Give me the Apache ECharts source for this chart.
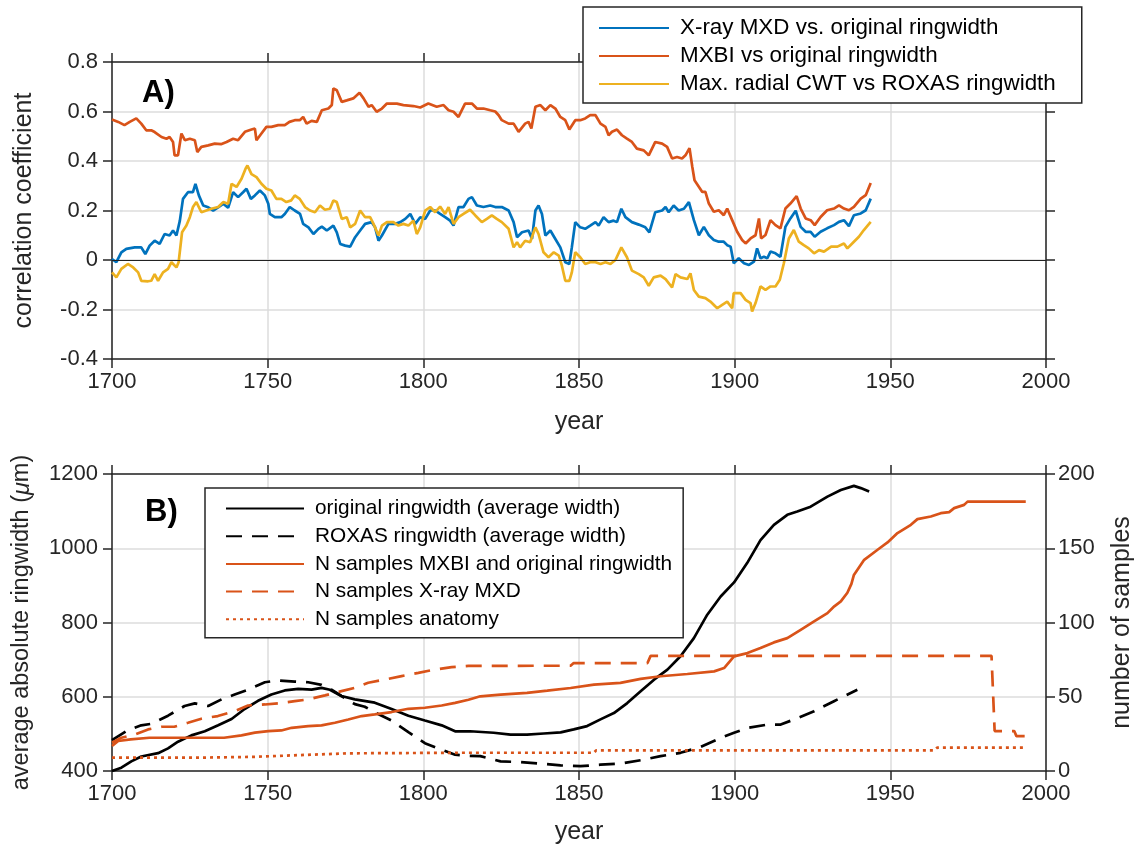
<!DOCTYPE html>
<html>
<head>
<meta charset="utf-8">
<script src="https://cdn.jsdelivr.net/npm/echarts@6/dist/echarts.min.js"></script>
<style>
  html, body { margin: 0; padding: 0; background: #fff; }
  #chart { width: 1139px; height: 849px; }
</style>
</head>
<body>
<div id="chart"></div>
<script>
// ---- panel A: running correlations [year, r] ----
const mxbiCorr = [[1700,0.568],[1702,0.558],[1704,0.545],[1705.7,0.558],[1707.8,0.572],[1709.4,0.551],[1711,0.524],[1712.6,0.524],[1713.7,0.517],[1715.9,0.497],[1717.5,0.490],[1718.5,0.497],[1719.6,0.477],[1720.1,0.423],[1721.2,0.423],[1722.3,0.511],[1723.4,0.484],[1725,0.490],[1726.6,0.484],[1727.4,0.436],[1728.7,0.457],[1730.9,0.463],[1733,0.470],[1735,0.468],[1736.8,0.477],[1738.9,0.490],[1740.5,0.484],[1742.7,0.518],[1744.8,0.527],[1745.9,0.531],[1746.4,0.484],[1748,0.511],[1749.6,0.538],[1751.2,0.538],[1753.4,0.545],[1755.5,0.545],[1757,0.558],[1758.7,0.565],[1760.3,0.565],[1761.4,0.578],[1762.5,0.551],[1764.1,0.562],[1765.8,0.558],[1767.4,0.605],[1769.5,0.612],[1770.6,0.626],[1771.1,0.693],[1772.2,0.686],[1773.8,0.639],[1775.4,0.645],[1777.5,0.653],[1779.5,0.676],[1780.8,0.653],[1782.4,0.619],[1783.4,0.626],[1785,0.599],[1786.7,0.612],[1788.3,0.632],[1791.5,0.632],[1793.6,0.626],[1796.8,0.622],[1799,0.616],[1801.6,0.632],[1804.3,0.619],[1806.5,0.626],[1808.1,0.605],[1809.7,0.599],[1811.3,0.578],[1813.4,0.632],[1815.6,0.632],[1817.2,0.612],[1819.3,0.612],[1821.5,0.605],[1823.1,0.600],[1824.2,0.585],[1825.2,0.565],[1827.4,0.551],[1829,0.551],[1830.6,0.518],[1832.7,0.551],[1833.8,0.558],[1834.7,0.531],[1836,0.619],[1837.6,0.626],[1839.2,0.605],[1840.8,0.626],[1842.4,0.612],[1844,0.578],[1845.6,0.565],[1846.9,0.527],[1848.8,0.565],[1850.4,0.565],[1852,0.572],[1853.6,0.585],[1855.3,0.585],[1856.9,0.551],[1858.5,0.538],[1859.5,0.504],[1860.6,0.518],[1862.2,0.527],[1863.8,0.504],[1865.4,0.490],[1867,0.477],[1868.6,0.450],[1870.8,0.443],[1872.4,0.423],[1874.5,0.477],[1876.7,0.470],[1878.3,0.457],[1879.9,0.410],[1881.5,0.416],[1883.1,0.410],[1884.2,0.423],[1885.5,0.452],[1886.4,0.376],[1887.1,0.322],[1889.6,0.275],[1890.6,0.275],[1891.7,0.228],[1893.3,0.195],[1894.9,0.201],[1896.5,0.181],[1897.6,0.208],[1899.2,0.161],[1900.8,0.114],[1902.4,0.081],[1903.5,0.067],[1905.1,0.087],[1906.7,0.100],[1907.8,0.168],[1908.5,0.087],[1909.9,0.101],[1911.5,0.161],[1913.1,0.141],[1914.7,0.128],[1916.3,0.208],[1917.9,0.228],[1919.9,0.258],[1921.2,0.208],[1922.8,0.168],[1924.4,0.161],[1925.7,0.141],[1927.6,0.174],[1929.7,0.201],[1931.9,0.208],[1933.5,0.221],[1935.1,0.208],[1936.7,0.201],[1938.3,0.215],[1940.5,0.248],[1942.1,0.262],[1943.7,0.311]];

const xrayCorr = [[1700,0.004],[1701.4,-0.009],[1703,0.031],[1704.6,0.045],[1707.3,0.051],[1709.4,0.051],[1710.7,0.024],[1712.1,0.058],[1713.7,0.078],[1715.3,0.065],[1716.9,0.105],[1718.5,0.099],[1719.6,0.119],[1720.7,0.099],[1721.8,0.159],[1722.8,0.247],[1724.4,0.274],[1726,0.274],[1726.8,0.308],[1727.9,0.261],[1729.3,0.220],[1730.9,0.213],[1732.5,0.200],[1734.1,0.213],[1735.7,0.227],[1737.3,0.211],[1738.9,0.274],[1740.5,0.254],[1742.1,0.274],[1743.2,0.288],[1744.6,0.247],[1745.9,0.261],[1747.5,0.281],[1749.1,0.261],[1750.2,0.227],[1750.7,0.186],[1752.3,0.173],[1754.4,0.173],[1755.5,0.186],[1757.1,0.214],[1758.7,0.200],[1760.4,0.186],[1761.4,0.146],[1763.1,0.132],[1764.7,0.105],[1766.3,0.126],[1767.4,0.135],[1769,0.119],[1771.1,0.139],[1772.2,0.112],[1773.3,0.065],[1774.9,0.058],[1776.5,0.054],[1778.1,0.092],[1779.7,0.119],[1781.3,0.146],[1783.4,0.153],[1784.5,0.132],[1785.6,0.078],[1786.7,0.099],[1788.8,0.146],[1791,0.146],[1792.6,0.153],[1794.2,0.166],[1795.8,0.186],[1797.4,0.146],[1799,0.173],[1800.6,0.166],[1802.2,0.200],[1803.8,0.200],[1805.4,0.186],[1807,0.173],[1808.6,0.159],[1809.7,0.139],[1811.3,0.214],[1812.9,0.214],[1814.5,0.247],[1815.6,0.254],[1817.2,0.220],[1819.3,0.214],[1821.5,0.220],[1823.1,0.214],[1825.2,0.214],[1827.4,0.200],[1829,0.153],[1830.1,0.092],[1831.7,0.112],[1833.8,0.119],[1834.9,0.085],[1836,0.200],[1837,0.220],[1838.1,0.186],[1839.2,0.099],[1840.8,0.119],[1842.4,0.085],[1844,0.051],[1845.6,-0.009],[1846.9,-0.016],[1847.7,0.051],[1848.8,0.153],[1850.4,0.132],[1852,0.126],[1853.6,0.139],[1855.3,0.153],[1856.3,0.139],[1857.9,0.173],[1859.5,0.153],[1861.1,0.159],[1862.2,0.153],[1863.6,0.207],[1864.9,0.173],[1867,0.153],[1869.2,0.143],[1871.3,0.132],[1872.6,0.112],[1874.5,0.193],[1876.7,0.200],[1877.8,0.214],[1878.8,0.193],[1880.4,0.220],[1882,0.200],[1883.7,0.207],[1885.3,0.234],[1885.8,0.242],[1886.9,0.161],[1888.5,0.100],[1890.1,0.134],[1891.7,0.100],[1893.3,0.081],[1894.9,0.074],[1896.5,0.074],[1897.6,0.060],[1898.7,0.054],[1899.7,-0.013],[1901.3,0.007],[1903,-0.013],[1904.6,-0.020],[1906.2,-0.007],[1907.2,0.047],[1908.3,0.007],[1909.4,0.013],[1910.5,0.007],[1911.5,0.034],[1913.1,0.027],[1914.7,0.013],[1916.3,0.134],[1917.9,0.168],[1919.6,0.199],[1921.2,0.134],[1922.8,0.114],[1924.4,0.114],[1925.7,0.094],[1927.6,0.114],[1929.7,0.128],[1931.9,0.141],[1933.5,0.154],[1935.1,0.161],[1936.7,0.137],[1938.3,0.181],[1940.5,0.188],[1942.1,0.201],[1943.7,0.248]];

const cwtCorr = [[1700,-0.050],[1701.4,-0.070],[1703,-0.036],[1705.1,-0.016],[1706.8,-0.030],[1708.4,-0.050],[1709.4,-0.084],[1711.6,-0.086],[1712.6,-0.084],[1713.7,-0.057],[1714.8,-0.084],[1716.4,-0.050],[1718,-0.036],[1719.1,-0.009],[1720.7,-0.030],[1721.4,-0.009],[1722.5,0.112],[1723.9,0.139],[1725,0.173],[1726,0.214],[1727.1,0.234],[1728.7,0.193],[1730.3,0.200],[1731.9,0.207],[1734.1,0.214],[1735.7,0.234],[1737.3,0.227],[1738.4,0.308],[1740,0.295],[1741.6,0.328],[1742.9,0.369],[1743.5,0.382],[1744.8,0.347],[1746.4,0.335],[1748,0.308],[1749.6,0.288],[1751.2,0.281],[1752.8,0.247],[1754.4,0.247],[1756,0.234],[1757.6,0.241],[1758.7,0.261],[1760.3,0.247],[1762,0.214],[1763.6,0.200],[1765.2,0.193],[1766.8,0.220],[1768.4,0.203],[1770,0.207],[1771.1,0.240],[1772.2,0.234],[1773.8,0.166],[1775.4,0.173],[1776.5,0.132],[1778.1,0.146],[1779.7,0.200],[1781.3,0.173],[1782.9,0.173],[1784,0.146],[1785.6,0.099],[1786.7,0.139],[1788.3,0.153],[1790.4,0.153],[1792,0.139],[1793.6,0.146],[1795.2,0.139],[1796.8,0.159],[1797.9,0.105],[1799,0.132],[1800.6,0.200],[1802.2,0.214],[1803.8,0.193],[1805.4,0.216],[1807,0.186],[1808.1,0.214],[1809.7,0.146],[1811.3,0.173],[1812.9,0.186],[1815,0.203],[1816.7,0.180],[1818.8,0.153],[1820.4,0.166],[1822,0.180],[1823.6,0.166],[1825.2,0.153],[1827.4,0.126],[1829,0.051],[1830.1,0.072],[1831.1,0.051],[1832.7,0.078],[1834.3,0.072],[1836,0.132],[1837,0.105],[1838.6,0.031],[1840.2,0.011],[1841.9,0.031],[1843.5,0.018],[1844.5,-0.023],[1845.6,-0.084],[1846.9,-0.084],[1847.7,-0.050],[1848.8,0.031],[1850.4,0.011],[1852,-0.016],[1853.6,-0.009],[1855.3,-0.009],[1856.9,-0.016],[1858.5,-0.009],[1860.1,-0.016],[1861.7,0.000],[1863.6,0.051],[1865.4,0.011],[1867,-0.043],[1869.2,-0.057],[1870.8,-0.070],[1872.4,-0.104],[1874,-0.070],[1876.2,-0.063],[1877.8,-0.077],[1879.9,-0.111],[1881,-0.057],[1882.6,-0.070],[1884.8,-0.077],[1885.8,-0.054],[1886.9,-0.121],[1888.5,-0.148],[1890.6,-0.154],[1892.2,-0.168],[1894.4,-0.195],[1896,-0.181],[1897.6,-0.168],[1899.2,-0.195],[1899.7,-0.134],[1901.9,-0.134],[1903.5,-0.161],[1905.1,-0.174],[1905.6,-0.208],[1906.7,-0.174],[1908.3,-0.107],[1909.9,-0.121],[1911.5,-0.107],[1913.1,-0.107],[1914.5,-0.080],[1915.8,-0.013],[1917.4,0.087],[1919,0.121],[1920.6,0.074],[1922.2,0.060],[1923.8,0.047],[1925.5,0.027],[1927.1,0.040],[1928.7,0.034],[1931,0.054],[1933,0.054],[1935.1,0.067],[1936.2,0.047],[1938.3,0.074],[1939.9,0.094],[1941.5,0.121],[1943.7,0.154]];

// ---- panel B: ring width (um) and sample counts ----
const origWidth = [[1700,400],[1703,409],[1706.2,426],[1709.4,439],[1714.8,448],[1718,461],[1721.2,479],[1725.5,496],[1729.8,507],[1734.1,523],[1738.4,540],[1742.6,567],[1746.9,589],[1751.2,606],[1755.5,617],[1759.8,621],[1764.1,619],[1767.3,624],[1770,619],[1773.7,602],[1778,593],[1784.4,584],[1789.8,567],[1795.2,549],[1800.5,536],[1805.9,523],[1810.2,507],[1815,507],[1822.6,503],[1828,498],[1833.3,498],[1838.7,501],[1844.1,504],[1848.3,512],[1852.6,521],[1856.9,539],[1861.2,556],[1865.5,583],[1869.8,615],[1874.1,646],[1878.4,673],[1882.6,709],[1886.9,758],[1891.2,821],[1895.5,870],[1899.8,908],[1904,960],[1908.3,1022],[1912.6,1063],[1916.9,1090],[1920.1,1099],[1924.4,1112],[1929.8,1139],[1934.1,1157],[1938.3,1168],[1940.5,1162],[1943.2,1153]];

const roxasWidth = [[1700,483],[1705.1,510],[1709.4,523],[1712.6,527],[1718,549],[1723.3,575],[1726.6,582],[1730.9,575],[1735.2,593],[1739.4,606],[1743.7,619],[1749.1,639],[1753.4,644],[1758.7,641],[1763,639],[1767.3,632],[1770.5,619],[1773.7,602],[1778,580],[1781.2,573],[1784.4,558],[1789.8,536],[1795.2,505],[1800.5,475],[1805.9,457],[1810.2,444],[1814.5,441],[1818.3,440],[1824.8,426],[1831.2,424],[1837.6,420],[1844.1,415],[1850.5,413],[1856.9,417],[1863.3,420],[1869.8,429],[1876.2,440],[1882.6,449],[1889.1,465],[1895.5,489],[1899.8,503],[1904.1,516],[1910.5,525],[1914.8,525],[1919.1,539],[1925.5,561],[1931.9,588],[1939.4,619]];

const nMxbi = [[1700,16.8],[1702,20.2],[1706,21.3],[1712,22.4],[1736,22.4],[1741.6,24],[1745.9,25.8],[1750.2,26.9],[1754.4,27.3],[1757.7,29.1],[1763,30.2],[1767.3,30.7],[1771.6,32.5],[1775.9,34.7],[1780.2,37],[1784.4,38.1],[1789.8,39.7],[1795.2,41.9],[1800.5,42.6],[1805.9,44.1],[1810.2,45.9],[1814.5,48],[1818.3,50.3],[1824.8,51.4],[1833.3,52.6],[1839.8,54.1],[1847.3,55.9],[1854.8,58.2],[1863.3,59.3],[1869.8,62],[1876.2,63.8],[1884.8,65.3],[1893.4,67.1],[1896.6,69.3],[1899.8,77.2],[1904.1,79.4],[1908.3,82.8],[1912.6,86.6],[1916.9,89.5],[1921.2,95.1],[1925.5,100.7],[1929.8,106.3],[1932,110.9],[1934.1,114.2],[1936.2,120],[1937.5,126],[1938.3,132],[1941.6,142.2],[1945.9,149],[1949.1,153.9],[1952.3,160.2],[1956.6,165.8],[1958.7,169.6],[1963,171.4],[1966.2,173.6],[1968.9,174.3],[1970.5,177],[1973.7,179.2],[1974.8,181.4],[1993.5,181.4]];

const nXray = [[1700,19],[1703,22.4],[1707.3,24.6],[1711.6,28],[1715.9,29.8],[1720,29.8],[1724.4,32.5],[1728.7,35.2],[1734,37],[1739.4,40.3],[1743.7,44.1],[1749.1,44.8],[1753.4,45.5],[1758.7,47],[1763,48.2],[1768.4,50.9],[1773.7,53.8],[1778,56],[1782.3,59.4],[1787.7,61.6],[1793,63.9],[1798.4,66.1],[1803.7,68.3],[1809.1,69.9],[1814.5,70.8],[1847.3,70.9],[1848.3,72.7],[1872,72.7],[1873,77.5],[1982.5,77.5],[1983.5,26.9],[1989.8,26.9],[1990.5,23.5],[1993.5,23.5]];

const nAnatomy = [[1700,9],[1728,9],[1745,9.5],[1757.7,10.5],[1775.9,11.9],[1814,12.3],[1854.8,12.3],[1855.5,13.9],[1964,13.9],[1965,15.7],[1993.5,15.7]];

const yearTicks = [1700, 2000, 50];
const corrTicks = [-0.4, 0.8, 0.2];
const widthTicks = [400, 1200, 200];
const countTicks = [0, 200, 50];

const BLUE = '#0072BD', ORANGE = '#D95319', YELLOW = '#EDB120', INK = '#262626';
const FONT = 'Liberation Sans, Arial, sans-serif';

const chart = echarts.init(document.getElementById('chart'));

const axisLine = { show: true, onZero: false, lineStyle: { color: INK, width: 1.5 } };
const axisTick = { show: true, inside: false, length: 9, lineStyle: { color: INK, width: 1.5 } };
const grid = { show: true, lineStyle: { color: '#dcdcdc', width: 1.5 } };
const label = { color: INK, fontSize: 22, fontFamily: FONT };
const nameStyle = { color: INK, fontSize: 25, fontFamily: FONT };
const plain = v => String(v);

function xAx(gridIndex, pos, withLabels, gap) {
  return {
    type: 'value', gridIndex, position: pos,
    min: yearTicks[0], max: yearTicks[1], interval: yearTicks[2],
    axisLine, axisTick,
    axisLabel: Object.assign({ show: withLabels, margin: 12, formatter: plain }, label),
    splitLine: withLabels ? grid : { show: false },
    name: withLabels ? 'year' : '', nameLocation: 'middle', nameGap: gap || 0,
    nameTextStyle: nameStyle
  };
}

function line(name, data, color, xi, yi, type, extra) {
  return Object.assign({
    name, type: 'line', data, xAxisIndex: xi, yAxisIndex: yi,
    showSymbol: false, symbol: 'none', animation: false,
    lineStyle: { color, width: 2.7, type: type || 'solid' },
    itemStyle: { color }
  }, extra || {});
}

// legend: line only, no marker
const legendBase = {
  orient: 'vertical', itemHeight: 14,
  backgroundColor: '#fff', borderColor: INK, borderWidth: 1.5, borderRadius: 0,
  itemStyle: { opacity: 0, color: 'transparent', borderWidth: 0 }
};

chart.setOption({
  animation: false,
  title: [
    { text: 'A)', left: 137, top: 73, textStyle: { fontSize: 31, fontWeight: 'bold', color: '#000', fontFamily: FONT } },
    { text: 'B)', left: 140, top: 492, textStyle: { fontSize: 31, fontWeight: 'bold', color: '#000', fontFamily: FONT } }
  ],
  grid: [
    { left: 112, right: 93, top: 62, height: 297, outerBoundsMode: 'none', containLabel: false },
    { left: 112, right: 93, top: 474, height: 297, outerBoundsMode: 'none', containLabel: false }
  ],
  xAxis: [xAx(0, 'bottom', true, 51), xAx(0, 'top', false), xAx(1, 'bottom', true, 49), xAx(1, 'top', false)],
  yAxis: [
    {
      type: 'value', gridIndex: 0, position: 'left',
      min: corrTicks[0], max: corrTicks[1], interval: corrTicks[2],
      axisLine, axisTick, splitLine: grid,
      axisLabel: Object.assign({ margin: 14, formatter: v => Math.abs(v) < 1e-9 ? '0' : v.toFixed(1) }, label),
      name: 'correlation coefficient', nameLocation: 'middle', nameRotate: 90, nameGap: 75,
      nameTextStyle: nameStyle
    },
    {
      type: 'value', gridIndex: 0, position: 'right',
      min: corrTicks[0], max: corrTicks[1], interval: corrTicks[2],
      axisLine, axisTick, splitLine: { show: false }, axisLabel: { show: false }
    },
    {
      type: 'value', gridIndex: 1, position: 'left',
      min: widthTicks[0], max: widthTicks[1], interval: widthTicks[2],
      axisLine, axisTick, splitLine: grid,
      axisLabel: Object.assign({ margin: 14, formatter: plain }, label),
      name: 'average absolute ringwidth ({i|μ}m)', nameLocation: 'middle', nameRotate: 90, nameGap: 78,
      nameTextStyle: { color: INK, fontSize: 23.5, fontFamily: FONT,
        rich: { i: { fontStyle: 'italic', fontSize: 23.5, color: INK, fontFamily: FONT } } }
    },
    {
      type: 'value', gridIndex: 1, position: 'right',
      min: countTicks[0], max: countTicks[1], interval: countTicks[2],
      axisLine, axisTick, splitLine: { show: false },
      axisLabel: Object.assign({ margin: 12, formatter: plain }, label),
      name: 'number of samples', nameLocation: 'middle', nameRotate: 90, nameGap: 64,
      nameTextStyle: nameStyle
    }
  ],
  legend: [
    Object.assign({}, legendBase, {
      data: ['X-ray MXD vs. original ringwidth', 'MXBI vs original ringwidth', 'Max. radial CWT vs ROXAS ringwidth'],
      left: 583, top: 7,
      itemWidth: 70, itemGap: 6,
      padding: [10, 26, 8, 15],
      textStyle: { color: '#000', fontSize: 22.4, fontFamily: FONT, lineHeight: 20, padding: [0, 0, 0, 6] }
    }),
    Object.assign({}, legendBase, {
      data: ['original ringwidth (average width)', 'ROXAS ringwidth (average width)', 'N samples MXBI and original ringwidth', 'N samples X-ray MXD', 'N samples anatomy'],
      left: 205, top: 488,
      itemWidth: 78, itemGap: 6.7,
      padding: [10, 11, 8, 20],
      textStyle: { color: '#000', fontSize: 20.8, fontFamily: FONT, lineHeight: 20, padding: [0, 0, 0, 6] }
    })
  ],
  series: [
    line('X-ray MXD vs. original ringwidth', xrayCorr, BLUE, 0, 0, 'solid', {
      markLine: { silent: true, symbol: 'none', label: { show: false },
        lineStyle: { color: '#222', width: 1.2, type: 'solid' }, data: [{ yAxis: 0 }] }
    }),
    line('MXBI vs original ringwidth', mxbiCorr, ORANGE, 0, 0),
    line('Max. radial CWT vs ROXAS ringwidth', cwtCorr, YELLOW, 0, 0),
    line('original ringwidth (average width)', origWidth, '#000', 2, 2),
    line('ROXAS ringwidth (average width)', roxasWidth, '#000', 2, 2, [16, 10]),
    line('N samples MXBI and original ringwidth', nMxbi, ORANGE, 2, 3),
    line('N samples X-ray MXD', nXray, ORANGE, 2, 3, [16, 10]),
    line('N samples anatomy', nAnatomy, ORANGE, 2, 3, [3, 4])
  ]
});
</script>
</body>
</html>
